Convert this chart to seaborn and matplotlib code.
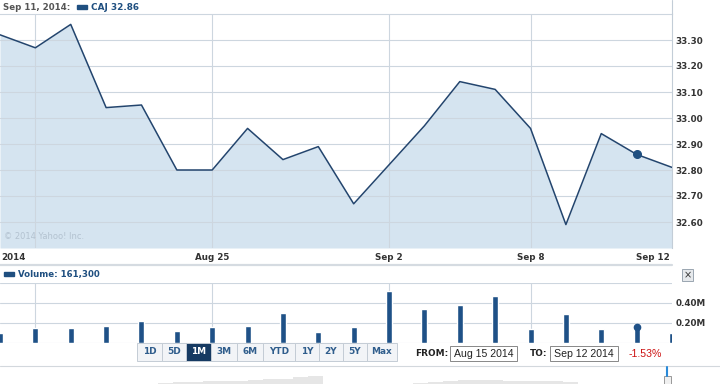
import numpy as np
import pandas as pd
import matplotlib
matplotlib.use("Agg")
import matplotlib.pyplot as plt
import matplotlib.transforms as mtransforms
from matplotlib.patches import Rectangle
from matplotlib.lines import Line2D
import seaborn as sns

# ---------------- data ----------------
dates = ["Aug 15", "Aug 18", "Aug 19", "Aug 20", "Aug 21", "Aug 22",
         "Aug 25", "Aug 26", "Aug 27", "Aug 28", "Aug 29",
         "Sep 2", "Sep 3", "Sep 4", "Sep 5",
         "Sep 8", "Sep 9", "Sep 10", "Sep 11", "Sep 12"]
price = [33.32, 33.27, 33.36, 33.04, 33.05, 32.80, 32.80, 32.96, 32.84, 32.89,
         32.67, 32.82, 32.97, 33.14, 33.11, 32.96, 32.59, 32.94, 32.86, 32.81]
volume_m = [0.10, 0.15, 0.15, 0.17, 0.22, 0.12, 0.16, 0.17, 0.30, 0.11,
            0.16, 0.52, 0.34, 0.38, 0.47, 0.14, 0.29, 0.14, 0.1613, 0.10]
price_ticks = [32.60, 32.70, 32.80, 32.90, 33.00, 33.10, 33.20, 33.30]
vol_ticks = [0.2, 0.4]
x_tick_idx = [1, 6, 11, 15, 19]
x_tick_labels = ["2014", "Aug 25", "Sep 2", "Sep 8", "Sep 12"]
highlight_idx = 18
buttons = ["1D", "5D", "1M", "3M", "6M", "YTD", "1Y", "2Y", "5Y", "Max"]
active_button = "1M"
from_date = "Aug 15 2014"
to_date = "Sep 12 2014"
change_text = "-1.53%"
# faint long-history thumbnail in the navigator (relative heights)
nav_values = [0, 0, 0, 0, 0, 0, 0, 0, 0, 0, 0,
              1.5, 2, 2.5, 3, 3, 3.5, 4, 5, 5.5, 7, 8.5,
              0, 0, 0, 0, 0, 0,
              1, 2, 3, 4, 4.5, 4, 3.5, 3, 3, 3, 2.5,
              0, 0, 0, 0, 0, 0, 0, 0, 0, 0]

df = pd.DataFrame({"i": np.arange(len(dates)), "date": dates,
                   "price": price, "vol": volume_m})

# ---------------- style ----------------
sns.set_theme(style="white")
plt.rcParams["font.family"] = ["DejaVu Sans"]

W, H = 720, 384
LINE = "#23456e"
FILL = "#d5e4f0"
BAR = "#1f5187"
GRID = "#cdd6df"
BLUE_TXT = "#1f4f80"
GREY_TXT = "#555555"
DARK_TXT = "#333333"


def fx(px):
    return px / W


def fy(py):
    return 1 - py / H


fig = plt.figure(figsize=(7.2, 3.84), dpi=100)

# ---------------- navigator thumbnail ----------------
axn = fig.add_axes([0, 0, 1, (384 - 367) / H])
axn.fill_between(np.arange(len(nav_values)), nav_values, 0, color="#e6e6e6",
                 lw=0, step="mid")
axn.set_xlim(0, len(nav_values) - 1)
axn.set_ylim(0, 17)
axn.axis("off")

# ---------------- price panel ----------------
ax1 = fig.add_axes([0, fy(248), fx(672), (248 - 14) / H])
ax1.fill_between(df["i"], df["price"], 32.5, color=FILL, lw=0, zorder=1)
sns.lineplot(data=df, x="i", y="price", ax=ax1, color=LINE, lw=1.1, zorder=3)
ax1.plot(df["i"][highlight_idx], df["price"][highlight_idx], "o", ms=5.5,
         color="#1f4f80", zorder=4)
ax1.set_xlim(0, 19)
ax1.set_ylim(32.5, 33.4)
ax1.set_yticks(price_ticks)
ax1.set_yticklabels([f"{v:.2f}" for v in price_ticks])
ax1.yaxis.tick_right()
ax1.tick_params(axis="y", length=0, pad=2.5, labelsize=6.3, labelcolor=DARK_TXT)
for lab in ax1.get_yticklabels():
    lab.set_fontweight("bold")
ax1.set_xticks(x_tick_idx[:-1])
ax1.set_xticklabels([])
ax1.tick_params(axis="x", length=0)
ax1.grid(True, color=GRID, lw=0.8, zorder=0)
ax1.set_axisbelow(False)
for l in ax1.get_xgridlines() + ax1.get_ygridlines():
    l.set_zorder(2)
ax1.set_xlabel("")
ax1.set_ylabel("")
for s in ["left", "bottom"]:
    ax1.spines[s].set_visible(False)
ax1.spines["top"].set_color(GRID)
ax1.spines["top"].set_linewidth(0.8)
ax1.spines["right"].set_color("#c3cdd7")
ax1.spines["right"].set_linewidth(0.8)
ax1.set_facecolor("white")

# x labels under price panel
trans = mtransforms.blended_transform_factory(ax1.transData, ax1.transAxes)
ly = -9 / 234
for idx, lab in zip(x_tick_idx, x_tick_labels):
    if lab == "2014":
        fig.text(fx(1), fy(257), lab, ha="left", va="center", fontsize=6.3,
                 fontweight="bold", color=DARK_TXT)
    elif idx == 19:
        ax1.text(idx - 0.05, ly, lab, transform=trans, ha="right", va="center",
                 fontsize=6.3, fontweight="bold", color=DARK_TXT)
    else:
        ax1.text(idx, ly, lab, transform=trans, ha="center", va="center",
                 fontsize=6.3, fontweight="bold", color=DARK_TXT)

# copyright
ax1.text(0.006, 0.03, "\u00a9 2014 Yahoo! Inc.", transform=ax1.transAxes,
         fontsize=6, color="#b3c2d0", ha="left", va="bottom", zorder=5)

# header
fig.add_artist(Line2D([fx(672), fx(672)], [fy(0), fy(14)], color="#c3cdd7", lw=0.8))
fig.text(fx(3), fy(7), f"{dates[highlight_idx]}, 2014:", ha="left", va="center",
         fontsize=6.2, fontweight="bold", color=GREY_TXT)
fig.add_artist(Rectangle((fx(77), fy(9)), fx(10), 4 / H, color=BLUE_TXT,
                         transform=fig.transFigure))
fig.text(fx(91), fy(7), f"CAJ {price[highlight_idx]:.2f}", ha="left", va="center",
         fontsize=6.4, fontweight="bold", color=BLUE_TXT)

# separator under x labels
fig.add_artist(Line2D([0, fx(672)], [fy(265), fy(265)], color="#d5dbe1", lw=1.6))

# ---------------- volume panel ----------------
ax2 = fig.add_axes([0, fy(343), fx(672), 60 / H])
sns.barplot(data=df, x="i", y="vol", ax=ax2, color=BAR, width=0.17,
            saturation=1, zorder=3)
ax2.plot(highlight_idx, volume_m[highlight_idx], "o", ms=4.5, color=BAR, zorder=4)
ax2.set_xlim(0, 19)
ax2.set_ylim(0, 0.6)
ax2.set_yticks([0, 0.2, 0.4, 0.6])
ax2.set_yticklabels(["", "0.20M", "0.40M", ""])
ax2.yaxis.tick_right()
ax2.tick_params(axis="y", length=0, pad=2.5, labelsize=6.3, labelcolor=DARK_TXT)
for lab in ax2.get_yticklabels():
    lab.set_fontweight("bold")
ax2.set_xticks(x_tick_idx[:-1])
ax2.set_xticklabels([])
ax2.tick_params(axis="x", length=0)
ax2.grid(True, color=GRID, lw=0.8, zorder=0)
ax2.set_axisbelow(True)
ax2.set_xlabel("")
ax2.set_ylabel("")
for s in ax2.spines.values():
    s.set_visible(False)

fig.add_artist(Rectangle((fx(4), fy(276)), fx(10), 4 / H, color=BLUE_TXT,
                         transform=fig.transFigure))
fig.text(fx(18), fy(274), f"Volume: {int(round(volume_m[highlight_idx]*1e6)):,}",
         ha="left", va="center", fontsize=6.2, fontweight="bold", color=BLUE_TXT)

# close button
fig.add_artist(Rectangle((fx(682), fy(281)), fx(11), 12 / H, facecolor="#e6e9ec",
                         edgecolor="#9aa5b0", lw=0.7, transform=fig.transFigure))
fig.text(fx(687.5), fy(275), "\u00d7", ha="center", va="center", fontsize=7,
         color="#333333")

# ---------------- range buttons ----------------
edges = [137, 162, 186, 211, 237, 263, 295, 319, 343, 367, 397]
for k, b in enumerate(buttons):
    x0, x1 = edges[k], edges[k + 1]
    active = (b == active_button)
    fig.add_artist(Rectangle((fx(x0), fy(361)), fx(x1 - x0), 18 / H,
                             facecolor="#163a62" if active else "#f2f4f7",
                             edgecolor="#c4ccd5", lw=0.7, transform=fig.transFigure))
    fig.text(fx((x0 + x1) / 2), fy(352), b, ha="center", va="center", fontsize=6.4,
             fontweight="bold", color="white" if active else "#2f5d8c")

fig.text(fx(415), fy(354), "FROM:", ha="left", va="center", fontsize=6.4,
         fontweight="bold", color="#222222")
fig.add_artist(Rectangle((fx(450), fy(361)), fx(67), 15 / H, facecolor="white",
                         edgecolor="#888888", lw=0.7, transform=fig.transFigure))
fig.text(fx(483.5), fy(354), from_date, ha="center", va="center", fontsize=7.6,
         family="Liberation Sans", color="#222222")
fig.text(fx(530), fy(354), "TO:", ha="left", va="center", fontsize=6.4,
         fontweight="bold", color="#222222")
fig.add_artist(Rectangle((fx(550), fy(361)), fx(68), 15 / H, facecolor="white",
                         edgecolor="#888888", lw=0.7, transform=fig.transFigure))
fig.text(fx(584), fy(354), to_date, ha="center", va="center", fontsize=7.6,
         family="Liberation Sans", color="#222222")
fig.text(fx(645), fy(354), change_text, ha="center", va="center", fontsize=7.6,
         family="Liberation Sans", color="#cc1111")

# line under buttons
fig.add_artist(Line2D([0, 1], [fy(366), fy(366)], color="#d3d8dd", lw=0.8))

# navigator handle
fig.add_artist(Line2D([fx(667), fx(667)], [fy(367), fy(376)], color="#2a8ad8", lw=1.5))
fig.add_artist(Rectangle((fx(664), fy(384)), fx(7), 8 / H, facecolor="#f0f0f0",
                         edgecolor="#999999", lw=0.7, transform=fig.transFigure))

fig.savefig("out.png", dpi=100, facecolor="white")
